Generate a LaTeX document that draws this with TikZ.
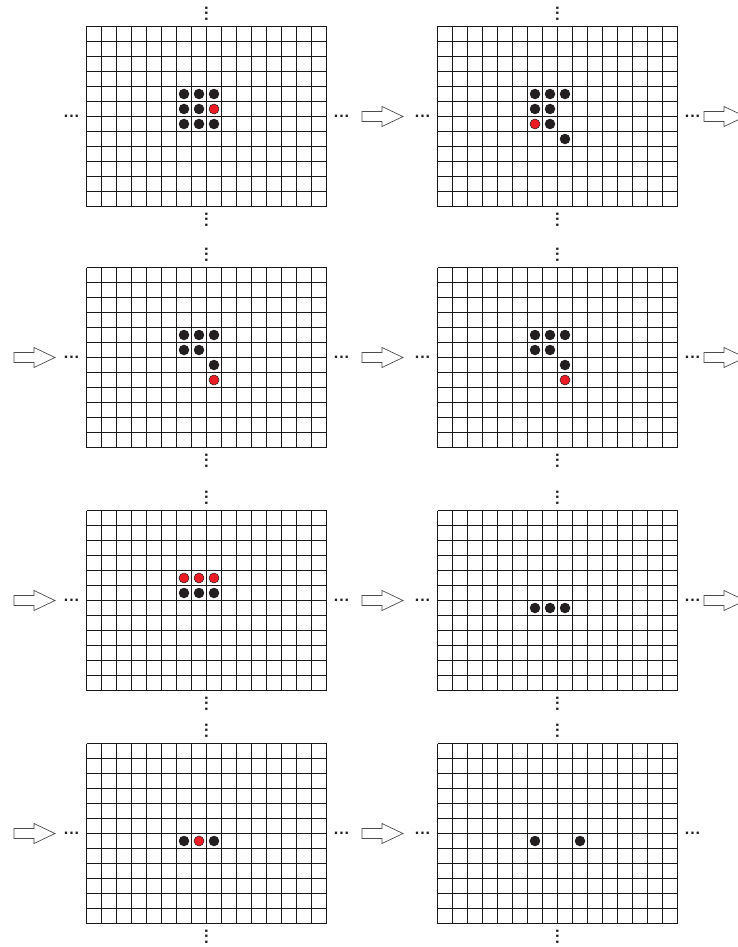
\documentclass[tikz,border=0pt]{standalone}
\usepackage{fontspec}
\newfontfamily\dotfont{Liberation Sans}
\definecolor{dotblack}{HTML}{231F20}
\definecolor{dotred}{HTML}{ED1C24}
\newcommand{\cellsz}{15}
\newcommand{\threedots}{.\kern1pt.\kern1pt.}
\tikzset{
  gridline/.style={draw=black!90, line width=1.15pt},
  blackdot/.style={circle, fill=dotblack, inner sep=0pt, minimum size=10.5pt},
  reddot/.style={circle, fill=dotred, draw=dotblack, line width=0.5pt, inner sep=0pt, minimum size=10pt},
  hdots/.style={inner sep=0pt, text=dotblack, font=\dotfont\bfseries\fontsize{16}{16}\selectfont},
  vdotsnode/.style={hdots, rotate=90},
  blockarrow/.style={draw=black!70, fill=white, line width=0.7pt, line join=miter},
}
% grid: x0, y0, name
\newcommand{\lifegrid}[3]{%
  \begin{scope}[shift={(#1,#2)}]
    \foreach \i in {0,...,16} \draw[gridline] (\i*\cellsz,0) -- (\i*\cellsz,12*\cellsz);
    \foreach \j in {0,...,12} \draw[gridline] (0,\j*\cellsz) -- (16*\cellsz,\j*\cellsz);
    \coordinate (#3) at (8*\cellsz,6*\cellsz);
    \node[hdots] (#3-l) at (-15,6*\cellsz) {\threedots};
    \node[hdots] (#3-r) at (16*\cellsz+15,6*\cellsz) {\threedots};
    \node[vdotsnode] (#3-t) at (8*\cellsz,-13) {\threedots};
    \node[vdotsnode] (#3-b) at (8*\cellsz,12*\cellsz+13) {\threedots};
  \end{scope}}
% dot in cell: style, col, row, name
\newcommand{\celldot}[4]{\node[#1] (#4) at ({(#2+0.5)*\cellsz},{(#3+0.5)*\cellsz}) {};}
% block arrow: x0, yc, name
\newcommand{\blockarr}[3]{%
  \coordinate (#3) at (#1,#2);
  \draw[blockarrow] (#1,#2-5) -- ++(20,0) -- ++(0,-5) -- ++(21,10) -- ++(-21,10) -- ++(0,-5) -- ++(-20,0) -- cycle;}
\begin{document}
\begin{tikzpicture}[x=1pt,y=-1pt]
\useasboundingbox (0,0) rectangle (738,947);
\fill[white] (0,0) rectangle (738,947);
\clip (0,0) rectangle (738,947);

% grids
\lifegrid{86.5}{26.5}{g1}
\lifegrid{437.5}{26.5}{g2}
\lifegrid{86.5}{267.5}{g3}
\lifegrid{437.5}{267.5}{g4}
\lifegrid{86.5}{510.5}{g5}
\lifegrid{437.5}{510.5}{g6}
\lifegrid{86.5}{743.5}{g7}
\lifegrid{437.5}{743.5}{g8}

% dots grid 1
\begin{scope}[shift={(86.5,26.5)}]
  \celldot{blackdot}{6}{4}{g1a}\celldot{blackdot}{7}{4}{g1b}\celldot{blackdot}{8}{4}{g1c}
  \celldot{blackdot}{6}{5}{g1d}\celldot{blackdot}{7}{5}{g1e}\celldot{reddot}{8}{5}{g1f}
  \celldot{blackdot}{6}{6}{g1g}\celldot{blackdot}{7}{6}{g1h}\celldot{blackdot}{8}{6}{g1i}
\end{scope}
% dots grid 2
\begin{scope}[shift={(437.5,26.5)}]
  \celldot{blackdot}{6}{4}{g2a}\celldot{blackdot}{7}{4}{g2b}\celldot{blackdot}{8}{4}{g2c}
  \celldot{blackdot}{6}{5}{g2d}\celldot{blackdot}{7}{5}{g2e}
  \celldot{reddot}{6}{6}{g2f}\celldot{blackdot}{7}{6}{g2g}
  \celldot{blackdot}{8}{7}{g2h}
\end{scope}
% dots grid 3
\begin{scope}[shift={(86.5,267.5)}]
  \celldot{blackdot}{6}{4}{g3a}\celldot{blackdot}{7}{4}{g3b}\celldot{blackdot}{8}{4}{g3c}
  \celldot{blackdot}{6}{5}{g3d}\celldot{blackdot}{7}{5}{g3e}
  \celldot{blackdot}{8}{6}{g3f}\celldot{reddot}{8}{7}{g3g}
\end{scope}
% dots grid 4
\begin{scope}[shift={(437.5,267.5)}]
  \celldot{blackdot}{6}{4}{g4a}\celldot{blackdot}{7}{4}{g4b}\celldot{blackdot}{8}{4}{g4c}
  \celldot{blackdot}{6}{5}{g4d}\celldot{blackdot}{7}{5}{g4e}
  \celldot{blackdot}{8}{6}{g4f}\celldot{reddot}{8}{7}{g4g}
\end{scope}
% dots grid 5
\begin{scope}[shift={(86.5,510.5)}]
  \celldot{reddot}{6}{4}{g5a}\celldot{reddot}{7}{4}{g5b}\celldot{reddot}{8}{4}{g5c}
  \celldot{blackdot}{6}{5}{g5d}\celldot{blackdot}{7}{5}{g5e}\celldot{blackdot}{8}{5}{g5f}
\end{scope}
% dots grid 6
\begin{scope}[shift={(437.5,510.5)}]
  \celldot{blackdot}{6}{6}{g6a}\celldot{blackdot}{7}{6}{g6b}\celldot{blackdot}{8}{6}{g6c}
\end{scope}
% dots grid 7
\begin{scope}[shift={(86.5,743.5)}]
  \celldot{blackdot}{6}{6}{g7a}\celldot{reddot}{7}{6}{g7b}\celldot{blackdot}{8}{6}{g7c}
\end{scope}
% dots grid 8
\begin{scope}[shift={(437.5,743.5)}]
  \celldot{blackdot}{6}{6}{g8a}\celldot{blackdot}{9}{6}{g8b}
\end{scope}

% block arrows
\blockarr{362}{116.5}{a1m}
\blockarr{704}{116.5}{a1r}
\blockarr{14}{357.5}{a2l}
\blockarr{362}{357.5}{a2m}
\blockarr{704}{357.5}{a2r}
\blockarr{14}{600.5}{a3l}
\blockarr{362}{600.5}{a3m}
\blockarr{704}{600.5}{a3r}
\blockarr{14}{833.5}{a4l}
\blockarr{362}{833.5}{a4m}
\end{tikzpicture}
\end{document}
